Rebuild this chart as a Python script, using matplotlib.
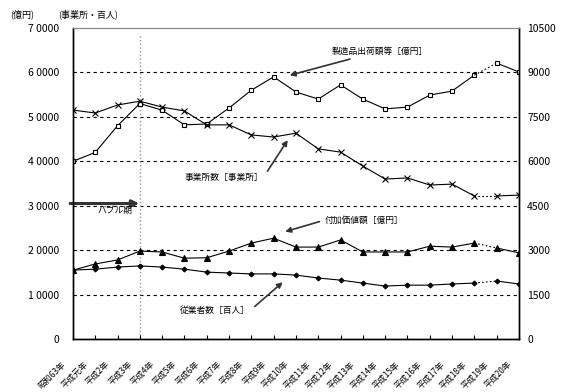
import matplotlib.pyplot as plt
from matplotlib.transforms import ScaledTranslation

plt.rcParams['font.family'] = ['Noto Sans CJK JP', 'DejaVu Sans']

# 年次ラベル
years = ['昭和63年', '平成元年'] + ['平成%d年' % n for n in range(2, 21)]

# 億円 (左軸)
shipments = [40000, 42000, 48000, 53000, 51500, 48200, 48400, 52000, 56000, 59000,
             55600, 54000, 57200, 54000, 51800, 52200, 54900, 55800, 59400, 62100, 60100]
value_added = [15500, 16900, 17800, 19800, 19600, 18200, 18300, 19800, 21600, 22700,
               20700, 20700, 22300, 19600, 19600, 19600, 20900, 20700, 21600, 20500, 19400]
# 事業所・百人 (右軸)
establishments = [7730, 7630, 7900, 8030, 7830, 7700, 7230, 7230, 6890, 6820,
                  6950, 6420, 6310, 5840, 5400, 5440, 5200, 5230, 4830, 4830, 4860]
employees = [2330, 2360, 2430, 2470, 2430, 2360, 2260, 2230, 2200, 2200,
             2160, 2060, 1990, 1890, 1790, 1820, 1820, 1860, 1890, 1960, 1860]

left_ticks = [0, 10000, 20000, 30000, 40000, 50000, 60000, 70000]
left_labels = ['0', '1 0000', '2 0000', '3 0000', '4 0000', '5 0000', '6 0000', '7 0000']
right_ticks = [0, 1500, 3000, 4500, 6000, 7500, 9000, 10500]

x = list(range(len(years)))
brk = 18  # 平成18年→19年 は点線

fig = plt.figure(figsize=(5.61, 3.92), dpi=100)
ax = fig.add_axes([0.130, 0.135, 0.795, 0.7936])
ax2 = ax.twinx()


def draw(a, vals, marker, ms, mfc):
    a.plot(x[:brk + 1], vals[:brk + 1], color='black', lw=0.8, marker=marker,
           ms=ms, mfc=mfc, mec='black', mew=0.8)
    a.plot(x[brk:brk + 2], vals[brk:brk + 2], color='black', lw=0.8, ls=(0, (1.5, 2)))
    a.plot(x[brk + 1:], vals[brk + 1:], color='black', lw=0.8, marker=marker,
           ms=ms, mfc=mfc, mec='black', mew=0.8)


draw(ax, shipments, 's', 3.5, 'white')
draw(ax, value_added, '^', 4, 'black')
draw(ax2, establishments, 'x', 5, 'black')
draw(ax2, employees, 'D', 2.5, 'black')

ax.set_xlim(0, len(years) - 1)
ax.set_ylim(0, 70000)
ax2.set_ylim(0, 10500)
ax.set_yticks(left_ticks)
ax.set_yticklabels(left_labels)
ax2.set_yticks(right_ticks)
ax.set_xticks(x)
ax.set_xticklabels(years, rotation=45, ha='right', va='center', rotation_mode='anchor')
ax.tick_params(axis='x', direction='in', length=3, labelsize=6, pad=17)
ax.tick_params(axis='y', length=0, labelsize=7.5, pad=10)
ax2.tick_params(axis='y', length=0, labelsize=7.5, pad=6)
shift = ScaledTranslation(-9 / 100, 0, fig.dpi_scale_trans)
for lbl in ax.get_xticklabels():
    lbl.set_transform(lbl.get_transform() + shift)

# グリッド
for t in left_ticks[1:-1]:
    ax.axhline(t, color='black', lw=0.8, ls=(0, (3, 3)), zorder=0)
ax.axvline(3, color='#999999', lw=1, ls=':', ymax=0.98, zorder=0)

for a in (ax, ax2):
    a.spines['top'].set_color('#888888')
    a.spines['left'].set_linewidth(1)
    a.spines['right'].set_linewidth(1)
    a.spines['bottom'].set_linewidth(1)

fig.text(0.018, 0.955, '(億円)', fontsize=6.5)
fig.text(0.103, 0.955, '(事業所・百人)', fontsize=6.5)

# 注記
ap = dict(arrowstyle='-|>', color='#333333', lw=1.2, mutation_scale=8)
ax.annotate('製造品出荷額等［億円］', xy=(9.6, 59200), xytext=(11.6, 64800),
            fontsize=6.3, va='center', arrowprops=ap)
ax.annotate('事業所数［事業所］', xy=(9.7, 45300), xytext=(5.0, 36300),
            fontsize=6.3, va='center', arrowprops=dict(ap, relpos=(1, 0.5)))
ax.annotate('付加価値額［億円］', xy=(9.4, 24000), xytext=(11.3, 26800),
            fontsize=6.3, va='center', arrowprops=dict(ap, relpos=(0, 0.5)))
ax.annotate('従業者数［百人］', xy=(9.5, 13200), xytext=(4.8, 6400),
            fontsize=6.3, va='center', arrowprops=dict(ap, relpos=(1, 0.5)))

ax.annotate('', xy=(3.1, 30500), xytext=(-0.25, 30500),
            arrowprops=dict(arrowstyle='-|>', color='#333333', lw=2.2, mutation_scale=10),
            annotation_clip=False)
ax.text(1.1, 29000, 'バブル期', fontsize=6.3, va='center')

fig.savefig('out.png', dpi=100)
